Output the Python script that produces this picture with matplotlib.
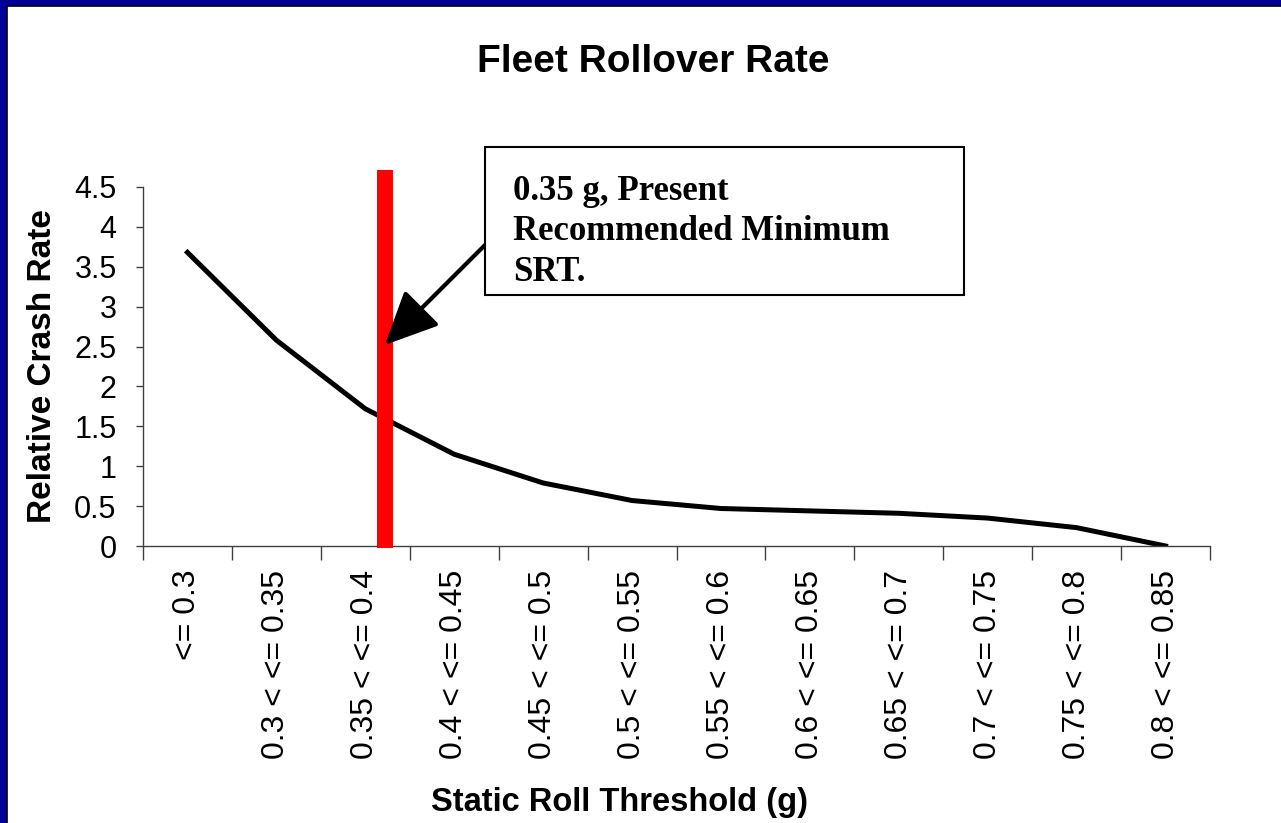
import matplotlib.pyplot as plt
from matplotlib.patches import Rectangle

categories = ["<= 0.3", "0.3 < <= 0.35", "0.35 < <= 0.4", "0.4 < <= 0.45",
              "0.45 < <= 0.5", "0.5 < <= 0.55", "0.55 < <= 0.6", "0.6 < <= 0.65",
              "0.65 < <= 0.7", "0.7 < <= 0.75", "0.75 < <= 0.8", "0.8 < <= 0.85"]
crash_rate = [3.68, 2.58, 1.72, 1.15, 0.79, 0.57, 0.47, 0.44, 0.41, 0.35, 0.23, 0.0]
yticks = [0, 0.5, 1, 1.5, 2, 2.5, 3, 3.5, 4, 4.5]
ytick_labels = ["0", "0.5", "1", "1.5", "2", "2.5", "3", "3.5", "4", "4.5"]
marker_pos = 2.22     # red marker position on category axis
marker_top = 4.71
arrow_tip = 2.52
note = "0.35 g, Present\nRecommended Minimum\nSRT."

sans = ["Liberation Sans", "DejaVu Sans"]
serif = ["Liberation Serif", "DejaVu Serif"]

fig = plt.figure(figsize=(12.81, 8.23), dpi=100)
fig.patch.set_facecolor("white")

# blue slide frame (top and left)
fig.patches.append(Rectangle((0, 1 - 6 / 823), 1, 6 / 823, transform=fig.transFigure,
                             facecolor="#000099", edgecolor="none"))
fig.patches.append(Rectangle((0, 0), 7 / 1281, 1, transform=fig.transFigure,
                             facecolor="#000099", edgecolor="none"))
fig.add_artist(plt.Line2D([7 / 1281, 1], [1 - 6 / 823] * 2, color="black", lw=1.2))
fig.add_artist(plt.Line2D([7 / 1281] * 2, [0, 1 - 6 / 823], color="black", lw=1.2))

ax = fig.add_axes([143 / 1281, 1 - 546 / 823, (1210 - 143) / 1281, (546 - 187) / 823])
x = list(range(len(categories)))
ax.plot(x, crash_rate, color="black", lw=3.6, solid_joinstyle="round")

ax.set_xlim(-0.5, len(categories) - 0.5)
ax.set_ylim(0, 4.5)
for s in ["top", "right"]:
    ax.spines[s].set_visible(False)
for s in ["left", "bottom"]:
    ax.spines[s].set_color("#404040")
    ax.spines[s].set_linewidth(1.0)

ax.set_yticks(yticks)
ax.set_yticklabels(ytick_labels, fontsize=22, family=sans)
ax.tick_params(axis="y", direction="out", length=5, width=1, color="#404040", pad=14)

ax.set_xticks(x)
ax.set_xticklabels(categories, rotation=90, fontsize=23, family=sans, va="top", ha="center")
ax.set_xticks([i - 0.5 for i in range(len(categories) + 1)], minor=True)
ax.tick_params(axis="x", which="major", length=0, pad=17)
ax.tick_params(axis="x", which="minor", direction="out", length=10, width=1, color="#404040")

ax.set_xlabel("Static Roll Threshold (g)", fontsize=23.5, fontweight="bold", family=sans,
              labelpad=20, x=0.447)
ax.set_ylabel("Relative Crash Rate", fontsize=24, fontweight="bold", family=sans, labelpad=12)

# red marker bar
ax.plot([marker_pos, marker_pos], [-0.02, marker_top], color="#ff0000", lw=11.5,
        solid_capstyle="butt", clip_on=False, zorder=3)

fig.text(653 / 1281, 1 - 62 / 823, "Fleet Rollover Rate", fontsize=28, fontweight="bold",
         family=sans, ha="center", va="center")

# annotation box
fig.patches.append(Rectangle((485 / 1281, 1 - 295 / 823), (964 - 485) / 1281, (295 - 147) / 823,
                             transform=fig.transFigure, facecolor="white", edgecolor="black",
                             lw=1.5, zorder=4))
fig.text(513 / 1281, 1 - 175 / 823, note, fontsize=25, fontweight="bold", family=serif,
         ha="left", va="top", linespacing=1.3, zorder=5)
ax.annotate("", xy=(marker_pos, arrow_tip), xycoords="data",
            xytext=(487, 823 - 243), textcoords="figure pixels",
            arrowprops=dict(arrowstyle="-|>,head_length=1.5,head_width=0.7", color="black",
                            lw=3, mutation_scale=22, shrinkA=0, shrinkB=0),
            annotation_clip=False, zorder=6)

fig.savefig("out.png", dpi=100)
